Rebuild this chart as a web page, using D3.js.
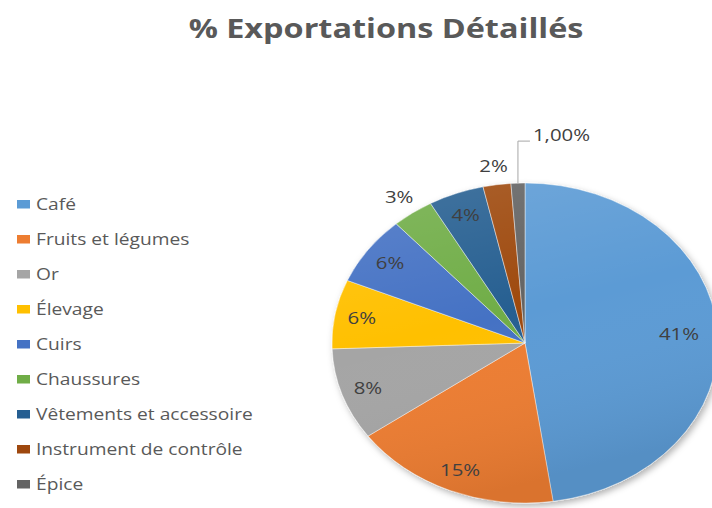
<!DOCTYPE html>
<html lang="fr">
<head>
    <meta charset="UTF-8">
    <title>% Exportations Détaillés</title>
    <script src="https://d3js.org/d3.v7.min.js"></script>
    <style>
        body { margin: 0; background: #fff; }
        svg { display: block; font-family: "Open Sans", "Noto Sans", sans-serif; }
    </style>
</head>
<body>
    <div id="chart"></div>

    <script>
        var categories = ["Café", "Fruits et légumes", "Or", "Élevage", "Cuirs", "Chaussures",
                          "Vêtements et accessoire", "Instrument de contrôle", "Épice"];
        var values = [41, 15, 8, 6, 6, 3, 4, 2, 1];
        var labels = ["41%", "15%", "8%", "6%", "6%", "3%", "4%", "2%", "1,00%"];
        var colors = ["#5B9BD5", "#ED7D31", "#A5A5A5", "#FFC000", "#4472C4", "#70AD47",
                      "#255E91", "#9E480E", "#636363"];

        var width = 712, height = 508;
        var cx = 525, cy = 343;
        var r = 160;            // vertical radius
        var sx = 193 / 160;     // the picture is stretched horizontally
        var tx = 1.2;           // same stretch for the text

        var data = categories.map((c, i) => ({ name: c, value: values[i], label: labels[i], color: colors[i] }));

        var svg = d3.select("#chart").append("svg")
            .attr("width", width)
            .attr("height", height);

        var defs = svg.append("defs");
        var shadow = defs.append("filter").attr("id", "shadow")
            .attr("x", "-10%").attr("y", "-10%").attr("width", "130%").attr("height", "130%");
        shadow.append("feDropShadow")
            .attr("dx", 2).attr("dy", 3).attr("stdDeviation", 3)
            .attr("flood-color", "#000").attr("flood-opacity", 0.3);

        var shade = defs.append("linearGradient").attr("id", "shade")
            .attr("x1", 0).attr("y1", 0).attr("x2", 0.3).attr("y2", 1);
        shade.append("stop").attr("offset", "0%").attr("stop-color", "#fff").attr("stop-opacity", 0.14);
        shade.append("stop").attr("offset", "50%").attr("stop-color", "#fff").attr("stop-opacity", 0);
        shade.append("stop").attr("offset", "100%").attr("stop-color", "#000").attr("stop-opacity", 0.08);

        function stretched(sel, x, y) {
            return sel.append("text")
                .attr("transform", "translate(" + x + "," + y + ") scale(" + tx + ",1)");
        }

        // title
        stretched(svg, 386, 38)
            .attr("text-anchor", "middle")
            .style("font-size", "27px")
            .style("font-weight", "bold")
            .style("fill", "#595959")
            .text("% Exportations Détaillés");

        // pie
        var pie = d3.pie().value(d => d.value).sort(null);
        var arc = d3.arc().innerRadius(0).outerRadius(r);
        var arcs = pie(data);

        var g = svg.append("g")
            .attr("transform", "translate(" + cx + "," + cy + ") scale(" + sx + ",1)");

        var pieG = g.append("g").attr("filter", "url(#shadow)");
        pieG.selectAll("path.slice")
            .data(arcs)
            .enter()
            .append("path")
            .attr("class", "slice")
            .attr("d", arc)
            .attr("fill", d => d.data.color)
            .attr("stroke", "#fff")
            .attr("stroke-opacity", 0.5)
            .attr("stroke-width", 0.8);

        g.append("circle")
            .attr("r", r)
            .attr("fill", "url(#shade)")
            .attr("pointer-events", "none");

        // data labels
        var bigIn = d3.arc().innerRadius(r * 0.8).outerRadius(r * 0.8);
        var inner = d3.arc().innerRadius(r * 0.86).outerRadius(r * 0.86);
        var outer = d3.arc().innerRadius(r * 1.12).outerRadius(r * 1.12);
        var edge = d3.arc().innerRadius(r).outerRadius(r);

        var lab = svg.append("g").attr("transform", "translate(" + cx + "," + cy + ")");

        arcs.forEach(function(d) {
            var v = d.data.value;
            var big = (d.endAngle - d.startAngle) > Math.PI / 2;
            if (v > 1) {
                var p = v >= 4 ? (big ? bigIn : inner).centroid(d) : outer.centroid(d);
                stretched(lab, p[0] * sx, p[1])
                    .attr("dy", "0.36em")
                    .attr("text-anchor", "middle")
                    .style("font-size", "17px")
                    .style("fill", "#404040")
                    .text(d.data.label);
            } else {
                // callout with leader line
                var e = edge.centroid(d);
                var x0 = e[0] * sx, y0 = e[1];
                var yTop = y0 - 42;
                lab.append("path")
                    .attr("d", "M" + x0 + "," + y0 + "V" + yTop + "H" + (x0 + 12))
                    .attr("fill", "none")
                    .attr("stroke", "#a6a6a6")
                    .attr("stroke-width", 1);
                stretched(lab, x0 + 15, yTop)
                    .style("font-size", "17px")
                    .style("fill", "#404040")
                    .text(d.data.label);
            }
        });

        // legend
        var legend = svg.append("g").attr("transform", "translate(17,204)");
        var item = legend.selectAll("g.item")
            .data(data)
            .enter()
            .append("g")
            .attr("class", "item")
            .attr("transform", (d, i) => "translate(0," + (i * 35) + ")");

        item.append("rect")
            .attr("x", 0)
            .attr("y", -4)
            .attr("width", 13)
            .attr("height", 8.5)
            .attr("fill", d => d.color);

        item.append("text")
            .attr("transform", "translate(19,0) scale(" + tx + ",1)")
            .attr("dy", "0.36em")
            .style("font-size", "16px")
            .style("fill", "#595959")
            .text(d => d.name);
    </script>
</body>
</html>
